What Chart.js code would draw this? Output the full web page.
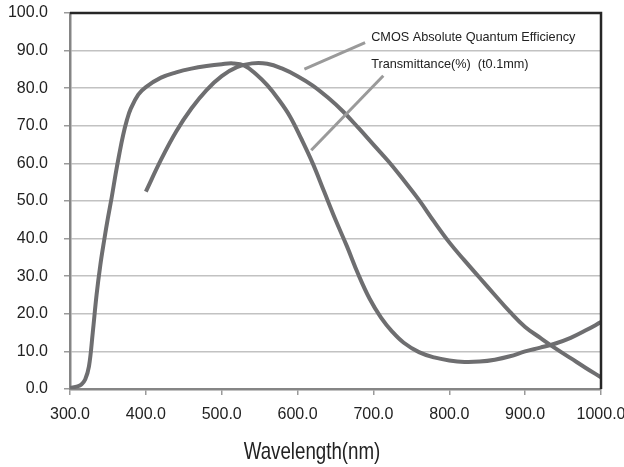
<!DOCTYPE html>
<html>
<head>
<meta charset="utf-8">
<script src="https://cdn.jsdelivr.net/npm/chart.js@4.4.1/dist/chart.umd.min.js"></script>
<style>
  html, body { margin: 0; padding: 0; background: #ffffff; }
  #wrap { width: 624px; height: 467px; }
</style>
</head>
<body>
<div id="wrap"><canvas id="chart-canvas" width="624" height="467"></canvas></div>
<script>
// Transmittance curve (steep rise from 300 nm)
const transWl  = [300, 310, 315, 320, 325, 330, 335, 340, 345, 350, 355, 360, 365, 370, 375, 380, 390, 400, 420, 440, 460, 480, 500, 515, 530, 545, 560, 575, 590, 605, 620, 635, 650, 665, 680, 695, 710, 725, 740, 760, 780, 800, 820, 840, 860, 880, 900, 920, 940, 960, 980, 1000];
const transVal = [0.3, 0.7, 1.2, 2.5, 6.0, 15.0, 25.0, 33.0, 39.5, 45.5, 51.0, 57.0, 62.5, 67.5, 71.5, 74.5, 78.3, 80.3, 82.8, 84.2, 85.2, 85.9, 86.4, 86.6, 86.0, 83.8, 80.8, 77.0, 72.5, 66.5, 60.0, 52.5, 45.0, 38.0, 30.5, 24.0, 19.0, 15.2, 12.3, 9.8, 8.4, 7.6, 7.2, 7.3, 7.8, 8.7, 10.0, 11.0, 12.1, 13.6, 15.6, 17.8];

// CMOS absolute quantum efficiency curve (starts at 400 nm)
const qeWl  = [400, 420, 440, 460, 480, 500, 520, 540, 560, 580, 600, 620, 640, 660, 680, 700, 720, 740, 760, 780, 800, 820, 840, 860, 880, 900, 920, 940, 960, 980, 1000];
const qeVal = [52.5, 61.0, 68.5, 74.6, 79.5, 83.2, 85.6, 86.6, 86.5, 85.2, 83.2, 80.7, 77.5, 73.8, 69.5, 65.0, 60.5, 55.5, 50.3, 44.5, 39.0, 34.2, 29.6, 25.0, 20.5, 16.5, 13.6, 10.8, 8.2, 5.6, 3.1];

// axis ranges and labels
const xMin = 300, xMax = 1000, xStep = 100;
const yMin = 0, yMax = 100, yStep = 10;
const xTitle = 'Wavelength(nm)';
const qeLabel = 'CMOS Absolute Quantum Efficiency';
const transLabel = 'Transmittance(%)  (t0.1mm)';

const sans = "'Liberation Sans', Arial, sans-serif";

// I turn the arrays into {x, y} points
const toPoints = (xs, ys) => xs.map((x, i) => ({ x: x, y: ys[i] }));

// I draw the dark frame on top/right, the leader lines with their labels and the axis title
const framePlugin = {
    id: 'frame',
    afterDraw(chart) {
        const { ctx, chartArea: a, scales } = chart;
        const sx = scales.x, sy = scales.y;
        ctx.save();
        ctx.strokeStyle = '#262626';
        ctx.lineWidth = 2.5;
        ctx.beginPath();
        ctx.moveTo(a.left, a.top);
        ctx.lineTo(a.right, a.top);
        ctx.lineTo(a.right, a.bottom);
        ctx.stroke();

        // leader lines (in data units)
        const leaders = [
            [609, 85.1, 689, 92.1],
            [713, 83.3, 618, 63.5]
        ];
        ctx.strokeStyle = '#9a9a9a';
        ctx.lineWidth = 3;
        leaders.forEach(l => {
            ctx.beginPath();
            ctx.moveTo(sx.getPixelForValue(l[0]), sy.getPixelForValue(l[1]));
            ctx.lineTo(sx.getPixelForValue(l[2]), sy.getPixelForValue(l[3]));
            ctx.stroke();
        });

        ctx.fillStyle = '#222222';
        ctx.font = '12.7px ' + sans;
        ctx.textBaseline = 'middle';
        ctx.textAlign = 'left';
        ctx.fillText(qeLabel, sx.getPixelForValue(697), sy.getPixelForValue(93.4));
        ctx.fillText(transLabel, sx.getPixelForValue(697), sy.getPixelForValue(86.4));

        // axis title, centred on the canvas and squeezed like the condensed original font
        ctx.translate(chart.width / 2, 452);
        ctx.scale(0.78, 1);
        ctx.textAlign = 'center';
        ctx.font = '24px ' + sans;
        ctx.fillText(xTitle, 0, 0);
        ctx.restore();
    }
};

const lineStyle = {
    borderColor: '#6e6e70',
    borderWidth: 4,
    pointRadius: 0,
    fill: false,
    tension: 0.4
};

new Chart(document.getElementById('chart-canvas'), {
    type: 'line',
    data: {
        datasets: [
            Object.assign({ label: transLabel, data: toPoints(transWl, transVal) }, lineStyle),
            Object.assign({ label: qeLabel, data: toPoints(qeWl, qeVal) }, lineStyle)
        ]
    },
    options: {
        responsive: false,
        animation: false,
        layout: { padding: { top: 13, right: 23, left: 0, bottom: 0 } },
        plugins: {
            legend: { display: false },
            tooltip: { enabled: false }
        },
        scales: {
            x: {
                type: 'linear',
                min: xMin,
                max: xMax,
                afterFit: s => { s.height = 78; s.paddingLeft = 0; s.paddingRight = 0; },
                ticks: {
                    stepSize: xStep,
                    color: '#222222',
                    padding: 10,
                    maxRotation: 0,
                    font: { family: sans, size: 16 },
                    callback: v => v.toFixed(1)
                },
                grid: {
                    drawOnChartArea: false,
                    drawTicks: true,
                    tickLength: 6,
                    color: '#9a9a9a',
                    lineWidth: 1.5
                },
                border: { color: '#858585', width: 2.5 }
            },
            y: {
                min: yMin,
                max: yMax,
                afterFit: s => { s.width = 70; s.paddingTop = 0; s.paddingBottom = 0; },
                ticks: {
                    stepSize: yStep,
                    color: '#222222',
                    padding: 16,
                    font: { family: sans, size: 16 },
                    callback: v => v.toFixed(1)
                },
                grid: {
                    color: '#c2c2c2',
                    lineWidth: 1.5,
                    tickLength: 6,
                    tickColor: '#9a9a9a'
                },
                border: { color: '#858585', width: 2.5 }
            }
        }
    },
    plugins: [framePlugin]
});
</script>
</body>
</html>
